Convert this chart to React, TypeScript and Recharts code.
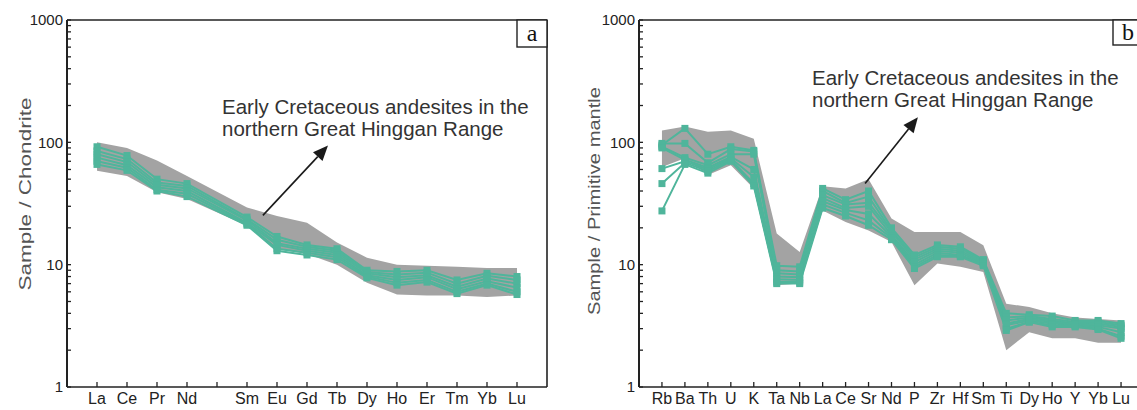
import React from 'react';
import { ComposedChart, Line, Area, XAxis, YAxis, ReferenceLine } from 'recharts';

const TEAL = '#4fb59b';
const BAND = '#a3a3a3';
const AXIS = '#222';
const FONT = '"Liberation Sans", Arial, sans-serif';

// panel a - chondrite normalized REE (Pm has no data, only a tick)
const reeLabels = ['La', 'Ce', 'Pr', 'Nd', '', 'Sm', 'Eu', 'Gd', 'Tb', 'Dy', 'Ho', 'Er', 'Tm', 'Yb', 'Lu'];
const reeBandHigh = [100, 90, 71, 53, null, 29.3, 25, 22, 15.2, 11.4, 10, 9.8, 9.6, 9.4, 9.4];
const reeBandLow = [58.5, 53, 39, 34.4, null, 20.8, 13.4, 12.2, 10, 7.1, 5.7, 5.6, 5.6, 5.45, 5.6];
const reeS1 = [92, 78, 50, 46, null, 24.5, 17, 14.5, 13.5, 9, 8.8, 9, 7.5, 8.5, 8];
const reeS2 = [85, 73, 47, 44, null, 23.5, 16, 14, 13, 8.7, 8.3, 8.6, 7, 8.1, 7.5];
const reeS3 = [80, 69, 45, 42, null, 23, 15, 13.5, 12.5, 8.5, 7.9, 8.2, 6.6, 7.7, 7];
const reeS4 = [75, 65, 43, 40, null, 22, 14.5, 13, 12, 8.2, 7.5, 7.9, 6.3, 7.3, 6.5];
const reeS5 = [70, 62, 41, 38, null, 21.5, 13.5, 12.5, 11.5, 8, 7.1, 7.5, 6, 7, 6];
const reeS6 = [66, 59, 40, 36, null, 21, 13, 12, 11, 7.8, 6.8, 7.2, 5.8, 6.8, 5.7];

// panel b - primitive mantle normalized trace elements
const pmLabels = ['Rb', 'Ba', 'Th', 'U', 'K', 'Ta', 'Nb', 'La', 'Ce', 'Sr', 'Nd', 'P', 'Zr', 'Hf', 'Sm', 'Ti', 'Dy', 'Ho', 'Y', 'Yb', 'Lu'];
const pmBandHigh = [125, 135, 122, 125, 107, 18, 12.7, 43.7, 42, 50, 23.8, 18.5, 18.5, 18.5, 14.4, 4.8, 4.5, 4.0, 3.7, 3.6, 3.5];
const pmBandLow = [63, 74, 54, 65, 42, 6.8, 7, 27.7, 22.3, 19, 15.3, 6.8, 10.2, 9.6, 8.7, 2.0, 2.8, 2.5, 2.5, 2.3, 2.3];
const pmS1 = [95, 130, 80, 92, 86, 9.8, 9.6, 42, 34, 40, 20, 12, 14.5, 14, 11, 4, 3.9, 3.8, 3.5, 3.5, 3.3];
const pmS2 = [98, 98, 68, 88, 84, 9, 8.8, 40, 32, 36, 19, 11.5, 14, 13.5, 10.8, 3.7, 3.8, 3.6, 3.4, 3.4, 3.2];
const pmS3 = [92, 75, 65, 80, 80, 8.5, 8.3, 37, 31, 32, 18.5, 11, 13.5, 13, 10.5, 3.5, 3.7, 3.5, 3.3, 3.3, 3.1];
const pmS4 = [90, 72, 62, 76, 60, 8, 7.9, 35, 29, 30, 17.5, 10.5, 13, 12.5, 10.3, 3.3, 3.6, 3.4, 3.25, 3.2, 3.0];
const pmS5 = [61, 70, 60, 74, 52, 7.6, 7.5, 33, 28, 26, 17, 10, 12.5, 12, 10.1, 3.2, 3.5, 3.3, 3.2, 3.1, 2.8];
const pmS6 = [46, 68, 58, 72, 46, 7.2, 7.2, 31, 26.5, 23, 16.5, 9.6, 12, 11.8, 10, 3.0, 3.4, 3.2, 3.15, 3.0, 2.6];
const pmS7 = [27.5, 66, 56, 70, 44, 7, 7, 29, 25, 21, 16, 9.3, 11.6, 11.6, 9.8, 2.9, 3.4, 3.1, 3.1, 2.95, 2.5];

const yMajor = [1, 10, 100, 1000];
const yMinor = [2, 3, 4, 5, 6, 7, 8, 9, 20, 30, 40, 50, 60, 70, 80, 90, 200, 300, 400, 500, 600, 700, 800, 900];

const SquareDot = (props: any) => {
  const { cx, cy } = props;
  if (cx == null || cy == null) return null;
  return <rect x={cx - 3.5} y={cy - 3.5} width={7} height={7} fill={TEAL} />;
};

const NoLabel = () => <g />;

const ArrowShape = (props: any) => {
  const { x1, y1, x2, y2 } = props;
  const ang = Math.atan2(y2 - y1, x2 - x1);
  const len = 15;
  const half = 6.5;
  const bx = x2 - len * Math.cos(ang);
  const by = y2 - len * Math.sin(ang);
  const px = -Math.sin(ang) * half;
  const py = Math.cos(ang) * half;
  return (
    <g>
      <line x1={x1} y1={y1} x2={bx} y2={by} stroke="#1a1a1a" strokeWidth={1.6} />
      <polygon points={`${x2},${y2} ${bx + px},${by + py} ${bx - px},${by - py}`} fill="#1a1a1a" />
    </g>
  );
};

type PanelProps = {
  labels: string[];
  high: (number | null)[];
  low: (number | null)[];
  samples: (number | null)[][];
  width: number;
  left: number;
  yWidth: number;
  marginRight: number;
  arrow: { x: number; y: number }[];
};

const Panel = ({ labels, high, low, samples, width, left, yWidth, marginRight, arrow }: PanelProps) => {
  const rows = labels
    .map((_, i) => {
      const row: any = { x: i, band: high[i] == null ? null : [low[i], high[i]] };
      samples.forEach((s, k) => (row[`s${k}`] = s[i]));
      return row;
    })
    .filter((r) => r.band !== null);
  const n = labels.length;
  const idx = labels.map((_, i) => i);
  return (
    <div style={{ position: 'absolute', left, top: 0 }}>
      <ComposedChart width={width} height={410} data={rows} margin={{ top: 20, right: marginRight, left: 0, bottom: 0 }}>
        <XAxis
          dataKey="x"
          type="number"
          domain={[-1, n]}
          ticks={idx}
          interval={0}
          tickFormatter={(v: number) => labels[v] ?? ''}
          tick={{ fill: AXIS, fontSize: 16, fontFamily: FONT }}
          tickLine={false}
          tickSize={0}
          tickMargin={6}
          height={23}
          axisLine={{ stroke: AXIS, strokeWidth: 1.6 }}
        />
        <XAxis
          xAxisId="xt"
          dataKey="x"
          type="number"
          domain={[-1, n]}
          ticks={idx}
          interval={0}
          mirror
          tick={<NoLabel />}
          tickSize={5}
          tickLine={{ stroke: AXIS, strokeWidth: 1.3 }}
          axisLine={false}
          height={1}
        />
        <YAxis
          scale="log"
          type="number"
          domain={[1, 1000]}
          allowDataOverflow
          ticks={yMajor}
          interval={0}
          width={yWidth}
          tick={{ fill: AXIS, fontSize: 15, fontFamily: FONT }}
          tickLine={false}
          tickSize={0}
          tickMargin={4}
          axisLine={{ stroke: AXIS, strokeWidth: 2 }}
        />
        <YAxis
          yAxisId="yt"
          scale="log"
          type="number"
          domain={[1, 1000]}
          allowDataOverflow
          ticks={[...yMajor, ...yMinor]}
          interval={0}
          mirror
          width={1}
          tick={<NoLabel />}
          tickSize={4}
          tickLine={{ stroke: AXIS, strokeWidth: 1.3 }}
          axisLine={false}
        />
        <Area dataKey="band" stroke="none" fill={BAND} fillOpacity={1} isAnimationActive={false} dot={false} activeDot={false} />
        {samples.map((_, k) => (
          <Line
            key={k}
            dataKey={`s${k}`}
            stroke={TEAL}
            strokeWidth={2}
            dot={<SquareDot />}
            activeDot={false}
            isAnimationActive={false}
            type="linear"
          />
        ))}
        <ReferenceLine y={1000} stroke={AXIS} strokeWidth={1.6} ifOverflow="visible" />
        <ReferenceLine x={n} stroke={AXIS} strokeWidth={1.6} ifOverflow="visible" />
        <ReferenceLine segment={arrow} ifOverflow="visible" shape={ArrowShape} />
      </ComposedChart>
    </div>
  );
};

export default function App() {
  return (
    <div style={{ position: 'absolute', left: 0, top: 0, width: 1137, height: 410, overflow: 'hidden', background: '#fff', fontFamily: FONT }}>
      <Panel
        labels={reeLabels}
        high={reeBandHigh}
        low={reeBandLow}
        samples={[reeS1, reeS2, reeS3, reeS4, reeS5, reeS6]}
        width={560}
        left={0}
        yWidth={67}
        marginRight={13}
        arrow={[{ x: 5.53, y: 25.3 }, { x: 7.7, y: 94 }]}
      />
      <Panel
        labels={pmLabels}
        high={pmBandHigh}
        low={pmBandLow}
        samples={[pmS1, pmS2, pmS3, pmS4, pmS5, pmS6, pmS7]}
        width={590}
        left={570}
        yWidth={69}
        marginRight={16}
        arrow={[{ x: 8.85, y: 46 }, { x: 11.15, y: 160 }]}
      />
      <svg width={1137} height={410} style={{ position: 'absolute', left: 0, top: 0, pointerEvents: 'none' }}>
        <g fontFamily={FONT} fill="#555" fontSize={17}>
          <text transform="translate(31,194) rotate(-90)" textAnchor="middle" textLength={193} lengthAdjust="spacingAndGlyphs">
            Sample / Chondrite
          </text>
          <text transform="translate(600,201) rotate(-90)" textAnchor="middle" textLength={228} lengthAdjust="spacingAndGlyphs">
            Sample / Primitive mantle
          </text>
        </g>
        <g fontFamily={FONT} fill="#333" fontSize={20.5}>
          <text x={222} y={114}>Early Cretaceous andesites in the</text>
          <text x={222} y={136}>northern Great Hinggan Range</text>
          <text x={812} y={85}>Early Cretaceous andesites in the</text>
          <text x={812} y={107}>northern Great Hinggan Range</text>
        </g>
        <rect x={517} y={20} width={30} height={27} fill="#fff" stroke={AXIS} strokeWidth={1.4} />
        <text x={532} y={41} textAnchor="middle" fontFamily='"Liberation Serif", "Times New Roman", serif' fontSize={24} fill="#111">a</text>
        <rect x={1113} y={20} width={31} height={25} fill="#fff" stroke={AXIS} strokeWidth={1.4} />
        <text x={1128} y={40} textAnchor="middle" fontFamily='"Liberation Serif", "Times New Roman", serif' fontSize={24} fill="#111">b</text>
      </svg>
    </div>
  );
}
